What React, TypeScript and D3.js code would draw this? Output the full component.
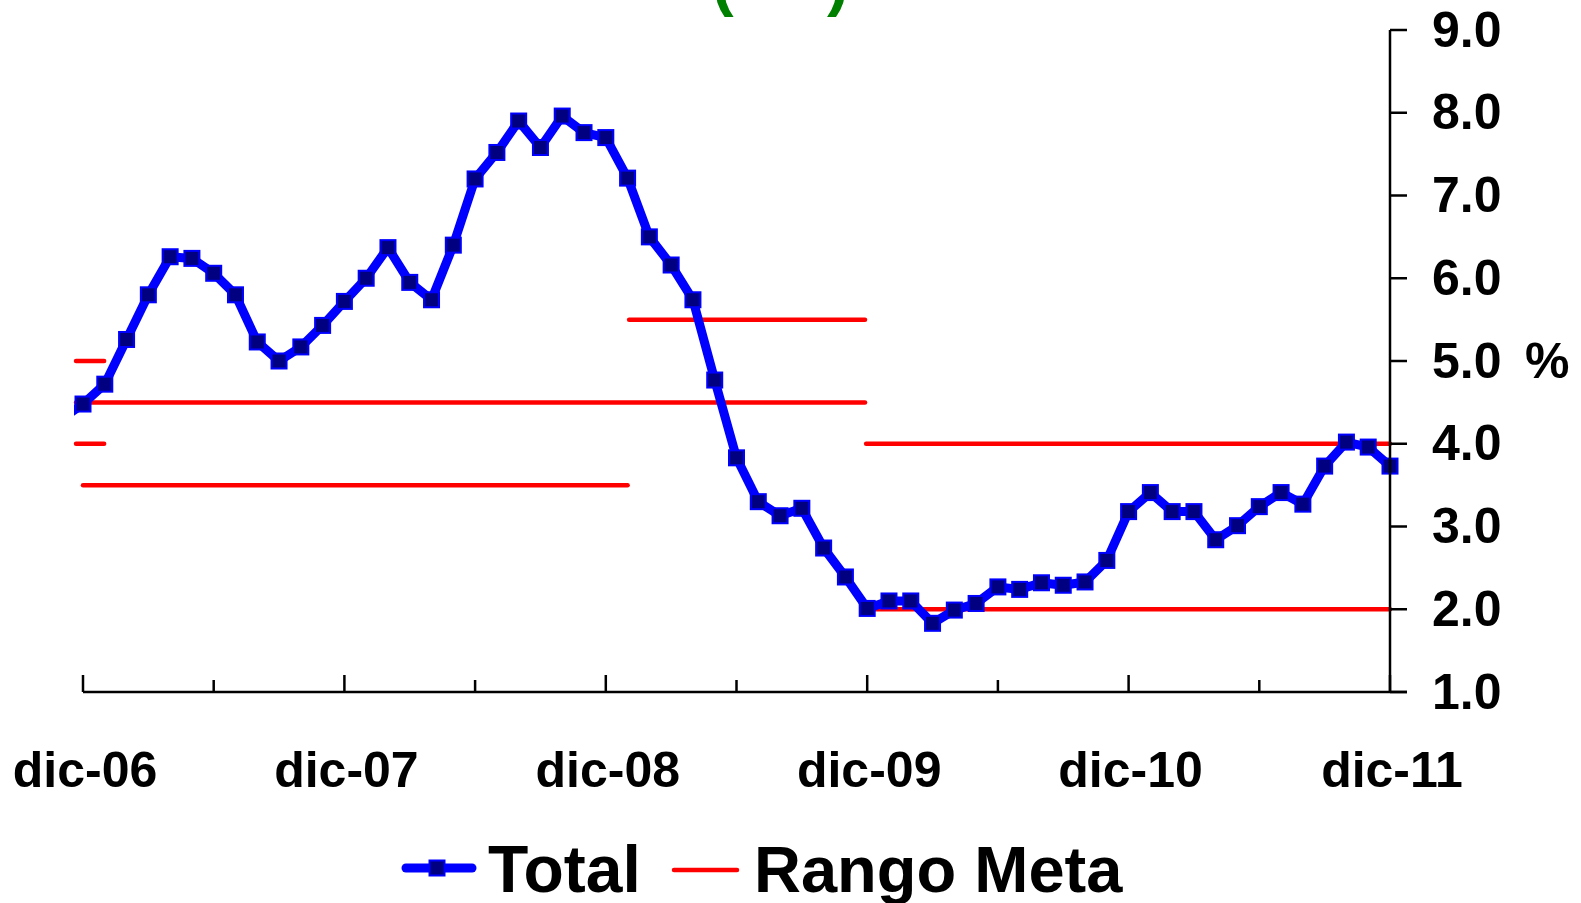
import React, { useEffect } from "react";
import * as d3 from "d3";

// Monthly series, index 0 = dic-06 (index -1 = nov-06, clipped at the left edge)
const totalMonths = [
  -1, 0, 1, 2, 3, 4, 5, 6, 7, 8, 9, 10, 11, 12, 13, 14, 15, 16, 17, 18, 19, 20,
  21, 22, 23, 24, 25, 26, 27, 28, 29, 30, 31, 32, 33, 34, 35, 36, 37, 38, 39,
  40, 41, 42, 43, 44, 45, 46, 47, 48, 49, 50, 51, 52, 53, 54, 55, 56, 57, 58,
  59, 60,
];
const totalValues = [
  4.3, 4.48, 4.72, 5.26, 5.8, 6.26, 6.24, 6.06, 5.8, 5.23, 5.0, 5.17, 5.43,
  5.72, 6.0, 6.37, 5.95, 5.74, 6.4, 7.2, 7.52, 7.9, 7.58, 7.96, 7.76, 7.7,
  7.21, 6.5, 6.16, 5.74, 4.77, 3.83, 3.3, 3.13, 3.22, 2.74, 2.39, 2.01, 2.1,
  2.1, 1.83, 1.99, 2.07, 2.27, 2.24, 2.32, 2.29, 2.33, 2.59, 3.18, 3.41, 3.18,
  3.18, 2.84, 3.01, 3.24, 3.41, 3.27, 3.73, 4.02, 3.96, 3.73,
];

// Rango Meta segments (month index start / end, value)
const metaStart = [-0.32, -0.32, -0.32, 0, 25.07, 35.95, 35.95];
const metaEnd = [0.97, 0.97, 35.9, 25.0, 35.9, 60, 60];
const metaValue = [5.0, 4.0, 4.5, 3.5, 5.5, 4.0, 2.0];

const yTicks = [1, 2, 3, 4, 5, 6, 7, 8, 9];
const xMajor = [0, 12, 24, 36, 48, 60];
const xMinor = [6, 18, 30, 42, 54];
const xLabels = ["dic-06", "dic-07", "dic-08", "dic-09", "dic-10", "dic-11"];

const FONT = "'Liberation Sans', Arial, Helvetica, sans-serif";
const BLUE = "#0000ff";
const NAVY = "#000080";
const RED = "#ff0000";
const MK = 15; // marker size

export default function App() {
  const W = 1581;
  const H = 903;

  // no page margin / scrollbars
  useEffect(() => {
    document.body.style.margin = "0";
    document.body.style.overflow = "hidden";
    document.documentElement.style.overflow = "hidden";
  }, []);

  const x = d3.scaleLinear().domain([0, 60]).range([83, 1390]);
  const y = d3.scaleLinear().domain([1, 9]).range([692, 30]);
  const fmt = d3.format(".1f");

  const points = totalMonths.map((m, i) => ({ m, v: totalValues[i] }));
  const line = d3
    .line<{ m: number; v: number }>()
    .x((d) => x(d.m))
    .y((d) => y(d.v));

  const axisY = y(1);
  const axisX = x(60);

  return (
    <svg
      width={W}
      height={H}
      style={{ position: "fixed", left: 0, top: 0, background: "#fff", display: "block" }}
      fontFamily={FONT}
    >
      <defs>
        <clipPath id="plotClip">
          <rect x={74} y={0} width={axisX - 74 + 10} height={H} />
        </clipPath>
      </defs>

      {/* cut-off title */}
      <text x={712} y={4} fill="#008000" fontSize={65} fontWeight="bold">
        (
      </text>
      <text x={827} y={4} fill="#008000" fontSize={65} fontWeight="bold">
        )
      </text>

      {/* Rango Meta */}
      <g stroke={RED} strokeWidth={4.5} strokeLinecap="round">
        {metaValue.map((v, i) => (
          <line
            key={i}
            x1={x(metaStart[i])}
            x2={x(metaEnd[i])}
            y1={y(v)}
            y2={y(v)}
          />
        ))}
      </g>

      {/* Total */}
      <g clipPath="url(#plotClip)">
        <path
          d={line(points) ?? ""}
          fill="none"
          stroke={BLUE}
          strokeWidth={9}
          strokeLinejoin="round"
        />
        {points.map((d, i) => (
          <rect
            key={i}
            x={x(d.m) - MK / 2}
            y={y(d.v) - MK / 2}
            width={MK}
            height={MK}
            fill={NAVY}
            stroke={BLUE}
            strokeWidth={2}
          />
        ))}
      </g>

      {/* X axis */}
      <g stroke="#000" strokeWidth={2.5}>
        <line x1={x(0)} x2={axisX + 17} y1={axisY} y2={axisY} />
        {xMajor.map((m) => (
          <line key={m} x1={x(m)} x2={x(m)} y1={axisY} y2={axisY - 17} />
        ))}
        {xMinor.map((m) => (
          <line key={m} x1={x(m)} x2={x(m)} y1={axisY} y2={axisY - 12} />
        ))}
      </g>
      {xMajor.map((m, i) => (
        <text
          key={m}
          x={x(m) + 2}
          y={787}
          textAnchor="middle"
          fontSize={50}
          fontWeight="bold"
          fill="#000"
        >
          {xLabels[i]}
        </text>
      ))}

      {/* Y axis (right) */}
      <g stroke="#000" strokeWidth={2.5}>
        <line x1={axisX} x2={axisX} y1={y(9)} y2={axisY} />
        {yTicks.map((t) => (
          <line key={t} x1={axisX} x2={axisX + 17} y1={y(t)} y2={y(t)} />
        ))}
      </g>
      {yTicks.map((t) => (
        <text
          key={t}
          x={axisX + 42}
          y={y(t)}
          dy="0.33em"
          fontSize={50}
          fontWeight="bold"
          fill="#000"
        >
          {fmt(t)}
        </text>
      ))}
      <text
        x={1525}
        y={y(5)}
        dy="0.33em"
        fontSize={50}
        fontWeight="bold"
        fill="#000"
      >
        %
      </text>

      {/* Legend */}
      <line
        x1={406}
        x2={472}
        y1={868}
        y2={868}
        stroke={BLUE}
        strokeWidth={9}
        strokeLinecap="round"
      />
      <rect
        x={437 - MK / 2}
        y={868 - MK / 2}
        width={MK}
        height={MK}
        fill={NAVY}
        stroke={BLUE}
        strokeWidth={2}
      />
      <text x={488} y={892} fontSize={66} fontWeight="bold" fill="#000">
        Total
      </text>
      <line
        x1={674}
        x2={737}
        y1={870}
        y2={870}
        stroke={RED}
        strokeWidth={4.5}
        strokeLinecap="round"
      />
      <text x={754} y={892} fontSize={65} fontWeight="bold" fill="#000">
        Rango Meta
      </text>
    </svg>
  );
}
